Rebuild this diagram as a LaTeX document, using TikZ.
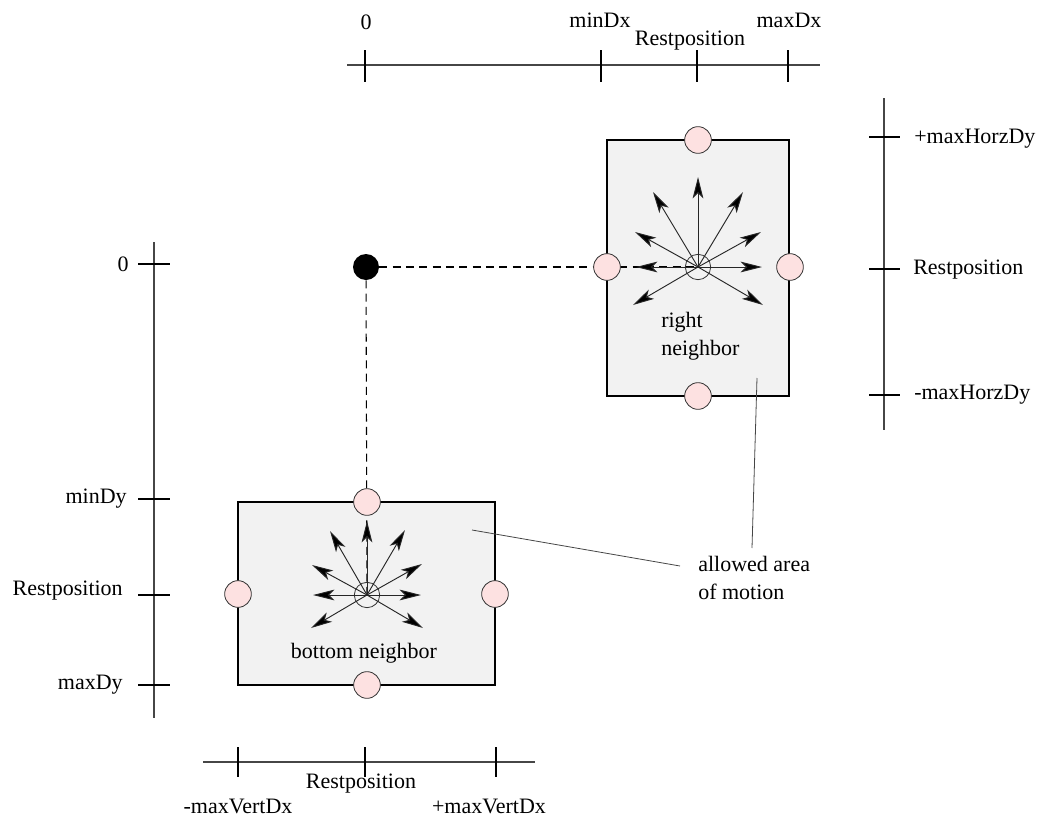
\documentclass[tikz,border=0pt]{standalone}
\usepackage{fontspec}
\setmainfont{Liberation Serif}
\usetikzlibrary{arrows.meta}
\definecolor{boxgray}{RGB}{242,242,242}
\definecolor{pinkfill}{RGB}{253,225,225}
\definecolor{linegray}{RGB}{70,70,70}
\begin{document}
\begin{tikzpicture}[x=0.75pt,y=-0.75pt,
  lbl/.style={font=\fontsize{16.5}{21}\selectfont, inner sep=0pt},
  axis/.style={draw=linegray, line width=0.9pt},
  tick/.style={draw=black, line width=0.8pt},
  areabox/.style={draw=black, line width=0.8pt, fill=boxgray, rectangle, inner sep=0pt},
  pinkdot/.style={circle, draw=black!80, line width=0.6pt, fill=pinkfill, minimum size=20pt, inner sep=0pt},
  hub/.style={circle, draw=black!80, line width=0.6pt, minimum size=19pt, inner sep=0pt},
  arr/.style={draw=black!85, line width=0.7pt, -{Stealth[length=16pt,width=8pt,inset=4pt,fill=black]}},
  dashline/.style={draw=black, line width=0.8pt, dash pattern=on 6pt off 4pt},
  leader/.style={draw=linegray, line width=0.6pt}
]
\useasboundingbox (0,0) rectangle (1040,818);

% ---------- top axis ----------
\coordinate (ta1) at (347,65); \coordinate (ta2) at (820,65);
\draw[axis] (ta1) -- (ta2);
\coordinate (tt0) at (365,65); \coordinate (tt1) at (601,65);
\coordinate (tt2) at (697,65); \coordinate (tt3) at (788,65);
\foreach \t in {tt0,tt1,tt2,tt3} \draw[tick] ([yshift=11pt]\t) -- ([yshift=-13pt]\t);
\node[lbl] (lt0) at (366,22) {0};
\node[lbl] (lt1) at (600,20) {minDx};
\node[lbl] (lt2) at (690,41) {Restposition};
\node[lbl] (lt3) at (789,20) {maxDx};

% ---------- left axis ----------
\coordinate (la1) at (154,242); \coordinate (la2) at (154,718);
\draw[axis] (la1) -- (la2);
\coordinate (lt_0) at (154,264); \coordinate (lt_1) at (154,499);
\coordinate (lt_2) at (154,595); \coordinate (lt_3) at (154,685);
\foreach \t in {lt_0,lt_1,lt_2,lt_3} \draw[tick] ([xshift=-12pt]\t) -- ([xshift=12pt]\t);
\node[lbl, anchor=east] (ll0) at (129,264) {0};
\node[lbl, anchor=east] (ll1) at (127,499) {minDy};
\node[lbl, anchor=east] (ll2) at (123,591) {Restposition};
\node[lbl, anchor=east] (ll3) at (123,685) {maxDy};

% ---------- right axis ----------
\coordinate (ra1) at (884,98); \coordinate (ra2) at (884,430);
\draw[axis] (ra1) -- (ra2);
\coordinate (rt0) at (884,137); \coordinate (rt1) at (884,269); \coordinate (rt2) at (884,395);
\foreach \t in {rt0,rt1,rt2} \draw[tick] ([xshift=-11pt]\t) -- ([xshift=12pt]\t);
\node[lbl, anchor=west] (rl0) at (914,139) {+maxHorzDy};
\node[lbl, anchor=west] (rl1) at (913,270) {Restposition};
\node[lbl, anchor=west] (rl2) at (914,395) {-maxHorzDy};

% ---------- bottom axis ----------
\coordinate (ba1) at (203,762); \coordinate (ba2) at (535,762);
\draw[axis] (ba1) -- (ba2);
\coordinate (bt0) at (238,762); \coordinate (bt1) at (365,762); \coordinate (bt2) at (496,762);
\foreach \t in {bt0,bt1,bt2} \draw[tick] ([yshift=11pt]\t) -- ([yshift=-11pt]\t);
\node[lbl] (bl1) at (361,784) {Restposition};
\node[lbl] (bl0) at (238,806) {-maxVertDx};
\node[lbl] (bl2) at (489,806) {+maxVertDx};

% ---------- boxes ----------
\node[areabox, minimum width=136.5pt, minimum height=192pt] (rbox) at (698,268) {};
\node[areabox, minimum width=192.75pt, minimum height=137.25pt] (bbox) at (366.5,593.5) {};

% hubs (centres)
\node[hub] (rc) at (698,267) {};
\node[hub] (bc) at (367,595) {};

% origin dot
\node[circle, fill=black, minimum size=19.5pt, inner sep=0pt] (origin) at (366,267) {};

% dashed connectors
\draw[dashline] (origin) -- (rc.center);
\draw[dashline] (origin) -- (bc.center);

% arrows of right neighbour
\foreach \dx/\dy in {0/-90, -45/-75, 45/-75, -63/-35, 63/-35, -62/0, 64/0, -65/38, 65/38}
  \draw[arr] (rc.center) -- ++(\dx,\dy);
% arrows of bottom neighbour
\foreach \dx/\dy in {0/-74, -37/-64, 38/-65, -55/-30, 55/-31, -54/0, 54/0, -56/33, 56/33}
  \draw[arr] (bc.center) -- ++(\dx,\dy);

% pink handles
\node[pinkdot] (rn) at (698,140) {};
\node[pinkdot] (rw) at (607,267) {};
\node[pinkdot] (re) at (790,267) {};
\node[pinkdot] (rs) at (698,396) {};
\node[pinkdot] (bn) at (367,502) {};
\node[pinkdot] (bw) at (238,594) {};
\node[pinkdot] (be) at (495,594) {};
\node[pinkdot] (bs) at (367,685) {};

% labels
\node[lbl, anchor=west, align=left] (rlab) at (661,336) {right\\neighbor};
\node[lbl] (blab) at (364,653) {bottom neighbor};
\node[lbl, anchor=west, align=left] (alab) at (698,578) {allowed area\\of motion};

% leader lines
\coordinate (lead1) at (757,378);
\coordinate (lead2) at (472,530);
\draw[leader] (lead1) -- (752,548);
\draw[leader] (lead2) -- (680,566);
\end{tikzpicture}
\end{document}
